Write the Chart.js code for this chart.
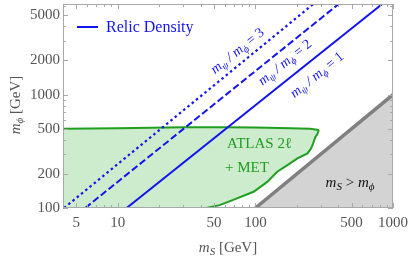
<!DOCTYPE html>
<html><head><meta charset="utf-8">
<script src="https://cdn.jsdelivr.net/npm/chart.js@4"></script>
<style>html,body{margin:0;padding:0;background:#fff}canvas{display:block}</style>
</head><body>
<canvas id="c" width="411" height="259"></canvas>
<script>
// ---- data ----
const xTickVals = [5, 10, 50, 100, 500, 1000];
const yTickVals = [100, 200, 500, 1000, 2000, 5000];
const xRange = [4, 1000];
const yRange = [100, 6300];

// relic density lines (m_S, m_phi)
const relic1X = [11.6, 835];  const relic1Y = [100, 6300];
const relic2X = [5.8, 403];   const relic2Y = [100, 6300];
const relic3X = [4.07, 264];  const relic3Y = [100, 6300];

// ATLAS 2l + MET excluded region: upper edge and lower/right edge
const atlasTopX = [4, 10, 30, 60, 100, 180, 250, 289];
const atlasTopY = [500, 505, 515, 515, 512, 505, 500, 487];
const atlasLowX = [4, 35, 44, 55, 69, 97, 122, 144, 171, 202, 239, 252, 260, 272, 282, 289];
const atlasLowY = [100, 100, 100, 106, 118, 139, 170, 209, 239, 274, 303, 330, 358, 420, 448, 487];

// kinematic boundary m_S = m_phi
const kinX = [100, 1000];
const kinY = [100, 1000];

const pts = (xs, ys) => xs.map((x, i) => ({x, y: ys[i]}));

const BLUE = '#1414ee', GREEN = '#1f9e1f', GREENFILL = '#cdebcd';
const SERIF = '"Liberation Serif", "Times New Roman", serif';

function rich(ctx, parts, x, y, align) {
  let w = 0;
  parts.forEach(p => { ctx.font = p.f; p.w = ctx.measureText(p.t).width; w += p.w; });
  let cx = align === 'center' ? x - w / 2 : (align === 'right' ? x - w : x);
  ctx.textAlign = 'left';
  parts.forEach(p => { ctx.font = p.f; ctx.fillText(p.t, cx, y + (p.dy || 0)); cx += p.w; });
}
const it = s => 'italic ' + s + 'px ' + SERIF;
const rg = s => s + 'px ' + SERIF;

function ratioLabel(n) {
  return [
    {t: 'm', f: it(14)}, {t: 'ψ', f: it(10), dy: 3},
    {t: ' / ', f: it(14)},
    {t: 'm', f: it(14)}, {t: 'ϕ', f: it(10), dy: 3},
    {t: ' = ' + n, f: rg(14)}
  ];
}

const decor = {
  id: 'decor',
  afterDraw(chart) {
    const ctx = chart.ctx, a = chart.chartArea;
    const xs = chart.scales.x, ys = chart.scales.y;
    ctx.save();
    // frame
    ctx.strokeStyle = '#a8a8a8'; ctx.lineWidth = 1;
    ctx.strokeRect(a.left + 0.5, a.top + 0.5, a.right - a.left - 1, a.bottom - a.top - 1);
    // ticks (inward)
    ctx.beginPath();
    for (let d = 1; d <= 1000; d *= 10) {
      for (let m = 1; m <= 9; m++) {
        const v = d * m;
        if (v < xRange[0] || v > xRange[1]) continue;
        const L = xTickVals.includes(v) ? 5 : 3;
        const px = Math.round(xs.getPixelForValue(v)) + 0.5;
        ctx.moveTo(px, a.bottom); ctx.lineTo(px, a.bottom - L);
        ctx.moveTo(px, a.top); ctx.lineTo(px, a.top + L);
      }
    }
    for (let d = 100; d <= 1000; d *= 10) {
      for (let m = 1; m <= 9; m++) {
        const v = d * m;
        if (v < yRange[0] || v > yRange[1]) continue;
        const L = yTickVals.includes(v) ? 5 : 3;
        const py = Math.round(ys.getPixelForValue(v)) + 0.5;
        ctx.moveTo(a.left, py); ctx.lineTo(a.left + L, py);
        ctx.moveTo(a.right, py); ctx.lineTo(a.right - L, py);
      }
    }
    ctx.stroke();

    ctx.textBaseline = 'alphabetic';
    // legend
    ctx.strokeStyle = BLUE; ctx.lineWidth = 2;
    ctx.beginPath(); ctx.moveTo(77, 27); ctx.lineTo(98, 27); ctx.stroke();
    ctx.fillStyle = BLUE;
    ctx.font = rg(16); ctx.textAlign = 'left';
    ctx.fillText('Relic Density', 106, 32);

    // rotated ratio labels
    const ang = -39 * Math.PI / 180;
    [[3, 237.5, 51], [2, 285, 62.5], [1, 317, 75]].forEach(([n, cx, cy]) => {
      ctx.save();
      ctx.translate(cx, cy); ctx.rotate(ang);
      ctx.fillStyle = BLUE;
      rich(ctx, ratioLabel(n), 0, 4, 'center');
      ctx.restore();
    });

    // ATLAS label
    ctx.fillStyle = GREEN;
    ctx.font = rg(15); ctx.textAlign = 'left';
    ctx.fillText('ATLAS 2ℓ', 227, 148);
    ctx.fillText('+ MET', 225, 172);

    // m_S > m_phi
    ctx.fillStyle = '#111';
    rich(ctx, [{t: 'm', f: it(15)}, {t: 'S', f: it(11), dy: 3}, {t: ' > ', f: rg(15)},
               {t: 'm', f: it(15)}, {t: 'ϕ', f: it(11), dy: 3}], 350, 187, 'center');

    // axis titles
    ctx.fillStyle = '#555';
    rich(ctx, [{t: 'm', f: it(15)}, {t: 'S', f: it(11), dy: 3}, {t: ' [GeV]', f: rg(15)}],
         (a.left + a.right) / 2, 252, 'center');
    ctx.save();
    ctx.translate(20, 105); ctx.rotate(-Math.PI / 2);
    rich(ctx, [{t: 'm', f: it(15)}, {t: 'ϕ', f: it(11), dy: 3}, {t: ' [GeV]', f: rg(15)}], 0, 0, 'center');
    ctx.restore();
    ctx.restore();
  }
};

new Chart(document.getElementById('c'), {
  type: 'scatter',
  data: {
    datasets: [
      {data: pts(relic1X, relic1Y), showLine: true, borderColor: BLUE, borderWidth: 2, pointRadius: 0, fill: false},
      {data: pts(relic2X, relic2Y), showLine: true, borderColor: BLUE, borderWidth: 2, borderDash: [7, 3], pointRadius: 0, fill: false},
      {data: pts(relic3X, relic3Y), showLine: true, borderColor: BLUE, borderWidth: 2.2, borderDash: [2.5, 3], pointRadius: 0, fill: false},
      // 3: ATLAS upper edge line
      {data: pts(atlasTopX, atlasTopY), showLine: true, borderColor: GREEN, borderWidth: 2, pointRadius: 0, fill: false},
      // 4: ATLAS right edge line (visible part of lower boundary)
      {data: pts(atlasLowX.slice(1), atlasLowY.slice(1)), showLine: true, borderColor: GREEN, borderWidth: 2, pointRadius: 0, fill: false},
      // 5: ATLAS fill between lower boundary and upper edge
      {data: pts(atlasLowX, atlasLowY), showLine: true, borderWidth: 0, borderColor: 'rgba(0,0,0,0)', pointRadius: 0,
       backgroundColor: GREENFILL, fill: 3},
      // 6: m_S > m_phi region
      {data: pts(kinX, kinY), showLine: true, borderColor: '#808080', borderWidth: 3.5, pointRadius: 0,
       backgroundColor: '#d3d3d3', fill: 'start'}
    ]
  },
  options: {
    responsive: false,
    animation: false,
    devicePixelRatio: 1,
    layout: {padding: {left: 0, right: 18, top: 4, bottom: 0}},
    plugins: {legend: {display: false}, tooltip: {enabled: false}},
    scales: {
      x: {
        type: 'logarithmic', min: xRange[0], max: xRange[1],
        grid: {display: false, drawTicks: false}, border: {display: false},
        afterBuildTicks: s => { s.ticks = xTickVals.map(v => ({value: v})); },
        afterFit: s => { s.height = 51; s.paddingLeft = 0; s.paddingRight = 0; },
        ticks: {autoSkip: false, maxRotation: 0, padding: 6, color: '#555',
                font: {family: SERIF, size: 15}, callback: v => String(v)}
      },
      y: {
        type: 'logarithmic', min: yRange[0], max: yRange[1],
        grid: {display: false, drawTicks: false}, border: {display: false},
        afterBuildTicks: s => { s.ticks = yTickVals.map(v => ({value: v})); },
        afterFit: s => { s.width = 63; s.paddingTop = 0; s.paddingBottom = 0; },
        ticks: {autoSkip: false, padding: 3, color: '#555',
                font: {family: SERIF, size: 15}, callback: v => String(v)}
      }
    }
  },
  plugins: [decor]
});
</script>
</body></html>
